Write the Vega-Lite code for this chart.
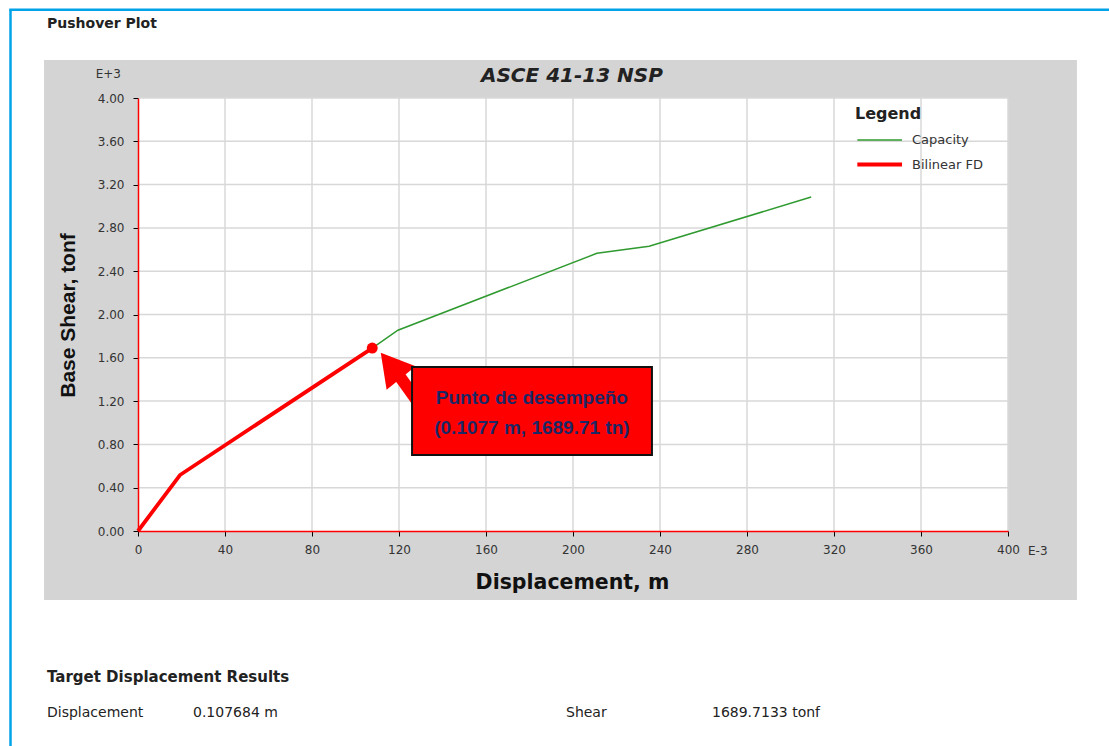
{
  "$schema": "https://vega.github.io/schema/vega-lite/v6.json",
  "width": 870,
  "height": 433,
  "autosize": {"type": "none"},
  "padding": {"left": 138, "top": 98, "right": 101, "bottom": 215},
  "background": "white",
  "config": {"view": {"stroke": null, "fill": null}},
  "datasets": {
    "curves": [
      {"series": "Capacity", "d": 0, "v": 0},
      {"series": "Capacity", "d": 19.3, "v": 0.517},
      {"series": "Capacity", "d": 107.7, "v": 1.69},
      {"series": "Capacity", "d": 119.5, "v": 1.855},
      {"series": "Capacity", "d": 211, "v": 2.565},
      {"series": "Capacity", "d": 235, "v": 2.63},
      {"series": "Capacity", "d": 309.5, "v": 3.085},
      {"series": "Bilinear FD", "d": 0, "v": 0},
      {"series": "Bilinear FD", "d": 19.3, "v": 0.517},
      {"series": "Bilinear FD", "d": 107.7, "v": 1.69}
    ],
    "xgrid": [{"g": 40}, {"g": 80}, {"g": 120}, {"g": 160}, {"g": 200}, {"g": 240}, {"g": 280}, {"g": 320}, {"g": 360}, {"g": 400}],
    "ygrid": [{"g": 0.4}, {"g": 0.8}, {"g": 1.2}, {"g": 1.6}, {"g": 2.0}, {"g": 2.4}, {"g": 2.8}, {"g": 3.2}, {"g": 3.6}, {"g": 4.0}],
    "one": [{}]
  },
  "layer": [
    {
      "data": {"name": "one"},
      "mark": {"type": "rect", "fill": "#d4d4d4"},
      "encoding": {
        "x": {
          "datum": -43.2, "type": "quantitative",
          "scale": {"domain": [0, 400], "nice": false, "zero": false},
          "axis": {
            "title": "Displacement, m",
            "values": [0, 40, 80, 120, 160, 200, 240, 280, 320, 360, 400],
            "format": "d", "grid": false, "zindex": 1,
            "domainColor": "#ff0000", "domainWidth": 1.5,
            "tickColor": "#000000", "tickSize": 5, "tickWidth": 1,
            "labelFont": "DejaVu Sans", "labelFontSize": 12, "labelColor": "#333333",
            "labelPadding": 8, "labelFlush": false, "labelOverlap": false,
            "titleFont": "DejaVu Sans", "titleFontSize": 20.5, "titleFontWeight": "bold",
            "titleColor": "#111111", "titleX": 434, "titleY": 57, "titleBaseline": "alphabetic"
          }
        },
        "x2": {"datum": 431.7},
        "y": {
          "datum": 4.351, "type": "quantitative",
          "scale": {"domain": [0, 4], "nice": false, "zero": false},
          "axis": {
            "title": "Base Shear, tonf",
            "values": [0, 0.4, 0.8, 1.2, 1.6, 2, 2.4, 2.8, 3.2, 3.6, 4],
            "format": ".2f", "grid": false, "zindex": 1,
            "domainColor": "#ff0000", "domainWidth": 1.5,
            "tickColor": "#000000", "tickSize": 5, "tickWidth": 1,
            "labelFont": "DejaVu Sans", "labelFontSize": 12, "labelColor": "#333333",
            "labelPadding": 9, "labelFlush": false, "labelOverlap": false,
            "titleFont": "Liberation Sans", "titleFontSize": 21, "titleFontWeight": "bold",
            "titleColor": "#111111", "titleX": -60, "titleY": 217, "titleAngle": 270, "titleBaseline": "bottom"
          }
        },
        "y2": {"datum": -0.637}
      }
    },
    {
      "data": {"name": "one"},
      "mark": {"type": "rect", "fill": "#ffffff"},
      "encoding": {
        "x": {"datum": 0, "type": "quantitative"},
        "x2": {"datum": 400},
        "y": {"datum": 0, "type": "quantitative"},
        "y2": {"datum": 4}
      }
    },
    {
      "data": {"name": "xgrid"},
      "mark": {"type": "rule", "stroke": "#d8d8d8", "strokeWidth": 1.5},
      "encoding": {"x": {"field": "g", "type": "quantitative", "title": "Displacement, m"}}
    },
    {
      "data": {"name": "ygrid"},
      "mark": {"type": "rule", "stroke": "#d8d8d8", "strokeWidth": 1.5},
      "encoding": {"y": {"field": "g", "type": "quantitative", "title": "Base Shear, tonf"}}
    },
    {
      "data": {"name": "curves"},
      "transform": [{"filter": "datum.series === 'Capacity'"}],
      "mark": {"type": "line"},
      "encoding": {
        "x": {"field": "d", "type": "quantitative", "title": "Displacement, m"},
        "y": {"field": "v", "type": "quantitative", "title": "Base Shear, tonf"},
        "color": {
          "field": "series", "type": "nominal",
          "scale": {"domain": ["Capacity", "Bilinear FD"], "range": ["#2f9a2f", "#ff0000"]},
          "legend": {
            "title": "Legend", "orient": "none", "legendX": 717, "legendY": 8, "padding": 0,
            "titleFont": "DejaVu Sans", "titleFontSize": 16, "titleFontWeight": "bold", "titleColor": "#222222",
            "titlePadding": 6, "labelFont": "DejaVu Sans", "labelFontSize": 13, "labelColor": "#333333",
            "symbolType": "M-1,0H3", "symbolSize": 500, "labelOffset": 30, "rowPadding": 4
          }
        },
        "strokeWidth": {
          "field": "series", "type": "nominal",
          "scale": {"domain": ["Capacity", "Bilinear FD"], "range": [1.5, 3.8]},
          "legend": {
            "title": "Legend", "orient": "none", "legendX": 717, "legendY": 8, "padding": 0,
            "titleFont": "DejaVu Sans", "titleFontSize": 16, "titleFontWeight": "bold", "titleColor": "#222222",
            "titlePadding": 6, "labelFont": "DejaVu Sans", "labelFontSize": 13, "labelColor": "#333333",
            "symbolType": "M-1,0H3", "symbolSize": 500, "labelOffset": 30, "rowPadding": 4
          }
        }
      }
    },
    {
      "data": {"name": "curves"},
      "transform": [{"filter": "datum.series === 'Bilinear FD'"}],
      "mark": {"type": "line"},
      "encoding": {
        "x": {"field": "d", "type": "quantitative", "title": "Displacement, m"},
        "y": {"field": "v", "type": "quantitative", "title": "Base Shear, tonf"},
        "color": {"field": "series", "type": "nominal"},
        "strokeWidth": {"field": "series", "type": "nominal"}
      }
    },
    {
      "data": {"name": "one"},
      "mark": {"type": "point", "filled": true, "fill": "#ff0000", "opacity": 1, "size": 120},
      "encoding": {"x": {"datum": 107.7, "type": "quantitative"}, "y": {"datum": 1.69, "type": "quantitative"}}
    },
    {
      "data": {"name": "one"},
      "mark": {"type": "rule", "stroke": "#ff0000", "strokeWidth": 12, "strokeCap": "butt"},
      "encoding": {
        "x": {"datum": 120.5, "type": "quantitative"}, "y": {"datum": 1.423, "type": "quantitative"},
        "x2": {"datum": 129.7}, "y2": {"datum": 1.164}
      }
    },
    {
      "data": {"name": "one"},
      "mark": {"type": "point", "shape": "triangle-up", "filled": true, "fill": "#ff0000", "opacity": 1, "size": 1400, "angle": 321},
      "encoding": {"x": {"datum": 116.3, "type": "quantitative"}, "y": {"datum": 1.53, "type": "quantitative"}}
    },
    {
      "data": {"name": "one"},
      "mark": {"type": "rect", "fill": "#ff0000", "stroke": "#111111", "strokeWidth": 2},
      "encoding": {
        "x": {"datum": 126.0, "type": "quantitative"}, "x2": {"datum": 236.3},
        "y": {"datum": 1.515, "type": "quantitative"}, "y2": {"datum": 0.702}
      }
    },
    {
      "data": {"name": "one"},
      "mark": {"type": "text", "font": "Liberation Sans", "fontSize": 19, "fontWeight": "bold", "color": "#1c2766", "align": "center", "baseline": "middle"},
      "encoding": {"x": {"datum": 181.1, "type": "quantitative"}, "y": {"datum": 1.229, "type": "quantitative"}, "text": {"value": "Punto de desempeño"}}
    },
    {
      "data": {"name": "one"},
      "mark": {"type": "text", "font": "Liberation Sans", "fontSize": 19, "fontWeight": "bold", "color": "#1c2766", "align": "center", "baseline": "middle"},
      "encoding": {"x": {"datum": 181.1, "type": "quantitative"}, "y": {"datum": 0.951, "type": "quantitative"}, "text": {"value": "(0.1077 m, 1689.71 tn)"}}
    },
    {
      "data": {"name": "one"},
      "mark": {"type": "text", "font": "DejaVu Sans", "fontSize": 20, "fontWeight": "bold", "fontStyle": "italic", "color": "#222222", "align": "center", "baseline": "middle"},
      "encoding": {"x": {"datum": 199.5, "type": "quantitative"}, "y": {"datum": 4.203, "type": "quantitative"}, "text": {"value": "ASCE 41-13 NSP"}}
    },
    {
      "data": {"name": "one"},
      "mark": {"type": "text", "font": "DejaVu Sans", "fontSize": 14, "fontWeight": "bold", "color": "#222222", "align": "left", "baseline": "middle"},
      "encoding": {"x": {"datum": -41.84, "type": "quantitative"}, "y": {"datum": 4.68, "type": "quantitative"}, "text": {"value": "Pushover Plot"}}
    },
    {
      "data": {"name": "one"},
      "mark": {"type": "text", "font": "DejaVu Sans", "fontSize": 12, "color": "#333333", "align": "right", "baseline": "middle"},
      "encoding": {"x": {"datum": -7.82, "type": "quantitative"}, "y": {"datum": 4.222, "type": "quantitative"}, "text": {"value": "E+3"}}
    },
    {
      "data": {"name": "one"},
      "mark": {"type": "text", "font": "DejaVu Sans", "fontSize": 12, "color": "#333333", "align": "left", "baseline": "middle"},
      "encoding": {"x": {"datum": 409.2, "type": "quantitative"}, "y": {"datum": -0.185, "type": "quantitative"}, "text": {"value": "E-3"}}
    },
    {
      "data": {"name": "one"},
      "mark": {"type": "text", "font": "DejaVu Sans", "fontSize": 15, "fontWeight": "bold", "color": "#222222", "align": "left", "baseline": "middle"},
      "encoding": {"x": {"datum": -41.84, "type": "quantitative"}, "y": {"datum": -1.349, "type": "quantitative"}, "text": {"value": "Target Displacement Results"}}
    },
    {
      "data": {"name": "one"},
      "mark": {"type": "text", "font": "DejaVu Sans", "fontSize": 14, "color": "#222222", "align": "left", "baseline": "middle"},
      "encoding": {"x": {"datum": -41.84, "type": "quantitative"}, "y": {"datum": -1.681, "type": "quantitative"}, "text": {"value": "Displacement"}}
    },
    {
      "data": {"name": "one"},
      "mark": {"type": "text", "font": "DejaVu Sans", "fontSize": 14, "color": "#222222", "align": "left", "baseline": "middle"},
      "encoding": {"x": {"datum": 25.29, "type": "quantitative"}, "y": {"datum": -1.681, "type": "quantitative"}, "text": {"value": "0.107684 m"}}
    },
    {
      "data": {"name": "one"},
      "mark": {"type": "text", "font": "DejaVu Sans", "fontSize": 14, "color": "#222222", "align": "left", "baseline": "middle"},
      "encoding": {"x": {"datum": 196.78, "type": "quantitative"}, "y": {"datum": -1.681, "type": "quantitative"}, "text": {"value": "Shear"}}
    },
    {
      "data": {"name": "one"},
      "mark": {"type": "text", "font": "DejaVu Sans", "fontSize": 14, "color": "#222222", "align": "left", "baseline": "middle"},
      "encoding": {"x": {"datum": 263.9, "type": "quantitative"}, "y": {"datum": -1.681, "type": "quantitative"}, "text": {"value": "1689.7133 tonf"}}
    },
    {
      "data": {"name": "one"},
      "mark": {"type": "rule", "stroke": "#00a2e8", "strokeWidth": 2.5},
      "encoding": {"x": {"datum": -58.62, "type": "quantitative"}, "y": {"datum": 4.816, "type": "quantitative"}, "y2": {"datum": -2.1}}
    },
    {
      "data": {"name": "one"},
      "mark": {"type": "rule", "stroke": "#00a2e8", "strokeWidth": 2.5},
      "encoding": {"y": {"datum": 4.816, "type": "quantitative"}, "x": {"datum": -59.2, "type": "quantitative"}, "x2": {"datum": 447}}
    }
  ]
}
